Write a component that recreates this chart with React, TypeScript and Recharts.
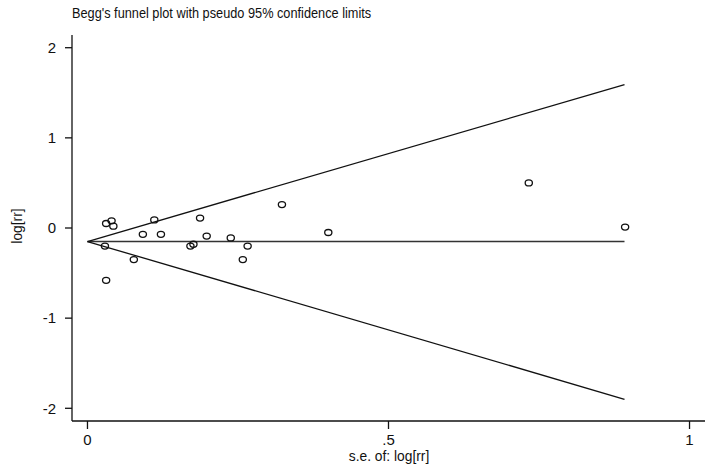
import React from "react";
import {
  ComposedChart, Scatter, XAxis, YAxis, ReferenceLine,
} from "recharts";

// study standard errors and log risk ratios
const seValues = [
  0.031, 0.040, 0.043, 0.029, 0.031, 0.077, 0.092, 0.111, 0.122, 0.171,
  0.176, 0.187, 0.198, 0.238, 0.258, 0.266, 0.323, 0.400, 0.733, 0.893,
];
const logRR = [
  0.05, 0.08, 0.02, -0.20, -0.58, -0.35, -0.07, 0.09, -0.07, -0.20,
  -0.18, 0.11, -0.09, -0.11, -0.35, -0.20, 0.26, -0.05, 0.50, 0.01,
];

// pooled estimate and the pseudo 95% limits at the largest s.e.
const pooled = -0.15;
const maxSe = 0.892;
const upperAtMax = 1.59;
const lowerAtMax = -1.90;

const xTicks = [0, 0.5, 1];
const xTickLabels = ["0", ".5", "1"];
const yTicks = [-2, -1, 0, 1, 2];

const points = seValues.map((se, i) => ({ se, lr: logRR[i] }));

const font = "'Liberation Sans', Arial, sans-serif";

const Ring = (props: any) => (
  <ellipse cx={props.cx} cy={props.cy} rx={3.6} ry={3} fill="none" stroke="#111" strokeWidth={1.3} />
);

export default function App() {
  return (
    <div style={{ position: "absolute", left: 0, top: 0, width: 719, height: 474, background: "#fff", fontFamily: font }}>
      <div style={{
        position: "absolute", left: 72, top: 5, fontSize: 14, color: "#111",
        transform: "scaleX(0.91)", transformOrigin: "left top", whiteSpace: "nowrap",
      }}>
        Begg's funnel plot with pseudo 95% confidence limits
      </div>
      <div style={{
        position: "absolute", left: 16, top: 226, fontSize: 15, color: "#111",
        transform: "translate(-50%, -50%) rotate(-90deg) scaleX(0.92)", whiteSpace: "nowrap",
      }}>
        log[rr]
      </div>
      <div style={{
        position: "absolute", left: 389, top: 455, fontSize: 15, color: "#111",
        transform: "translate(-50%, -50%) scaleX(0.92)", whiteSpace: "nowrap",
      }}>
        s.e. of: log[rr]
      </div>
      <ComposedChart width={719} height={474} data={points}
        margin={{ top: 35, right: 14, left: 0, bottom: 0 }}>
        <XAxis type="number" dataKey="se" domain={[-0.0257, 1.0257]} ticks={xTicks}
          allowDataOverflow height={53} tickSize={8} tickMargin={5}
          tickFormatter={(v: number) => xTickLabels[xTicks.indexOf(v)] ?? String(v)}
          axisLine={{ stroke: "#111", strokeWidth: 1.3 }} tickLine={{ stroke: "#111", strokeWidth: 1.3 }}
          tick={{ fill: "#111", fontSize: 15, fontFamily: font }} />
        <YAxis type="number" dataKey="lr" domain={[-2.141, 2.141]} ticks={yTicks}
          allowDataOverflow width={72} tickSize={7} tickMargin={9}
          axisLine={{ stroke: "#111", strokeWidth: 1.3 }} tickLine={{ stroke: "#111", strokeWidth: 1.3 }}
          tick={{ fill: "#111", fontSize: 15, fontFamily: font }} />
        <ReferenceLine segment={[{ x: 0, y: pooled }, { x: maxSe, y: pooled }]}
          stroke="#333" strokeWidth={1.6} ifOverflow="visible" />
        <ReferenceLine segment={[{ x: 0, y: pooled }, { x: maxSe, y: upperAtMax }]}
          stroke="#111" strokeWidth={1.3} ifOverflow="visible" />
        <ReferenceLine segment={[{ x: 0, y: pooled }, { x: maxSe, y: lowerAtMax }]}
          stroke="#111" strokeWidth={1.3} ifOverflow="visible" />
        <Scatter dataKey="lr" shape={Ring} isAnimationActive={false} />
      </ComposedChart>
    </div>
  );
}
